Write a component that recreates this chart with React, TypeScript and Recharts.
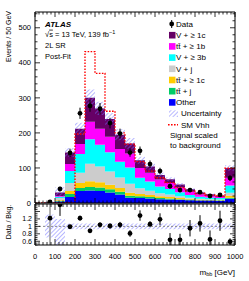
import React from 'react';
import { ComposedChart, Area, Line, Scatter, ErrorBar, XAxis, YAxis, ReferenceLine, Legend } from 'recharts';

const FONT = '"Liberation Sans", Arial, Helvetica, sans-serif';

// histogram bin edges (50 GeV bins), last edge closes the last step
const binEdges = [0, 50, 100, 150, 200, 250, 300, 350, 400, 450, 500, 550, 600, 650, 700, 750, 800, 850, 900, 950, 1000];

// background stack, events / 50 GeV per bin (bottom -> top)
const other = [0, 0.5, 4, 17, 34, 36, 34, 30, 24, 15, 14, 13, 11, 10, 9, 8, 7, 7, 6, 12];
const ttLight = [0, 0.2, 2, 9, 9, 10, 10, 9, 8, 6, 5, 4, 3, 3, 2, 2, 1, 1, 1, 3];
const ttC = [0, 0.2, 2, 8, 14, 16, 15, 13, 11, 8, 7, 6, 5, 4, 3, 2, 2, 1, 1, 6];
const vLight = [0, 0.6, 6, 23, 29, 50, 45, 38, 30, 26, 16, 12, 9, 7, 5, 3, 2, 2, 2, 8];
const v3b = [0, 0.3, 4, 34, 54, 70, 62, 55, 45, 46, 30, 26, 19, 16, 12, 8, 6, 5, 4, 21];
const ttB = [0, 0.2, 2, 20, 28, 50, 46, 44, 36, 40, 28, 25, 20, 17, 13, 9, 7, 5, 4, 22];
const vC = [0, 0.5, 10, 33, 44, 68, 58, 51, 41, 29, 22, 18, 13, 11, 9, 7, 5, 4, 3, 28];
const uncRel = [0, 0.3, 0.5, 0.09, 0.08, 0.08, 0.07, 0.07, 0.08, 0.09, 0.08, 0.08, 0.08, 0.08, 0.08, 0.08, 0.08, 0.08, 0.08, 0.08];
const smVhh = [0, 0, 0, 0, 197, 432, 370, 262, 200, 168, 118, 91, 72, 58, 44, 34, 27, 22, 20, 99];

// data points at bin centres
const dataX = [75, 125, 175, 225, 275, 325, 375, 425, 475, 525, 575, 625, 675, 725, 775, 825, 875, 925, 975];
const dataY = [3, 40, 143, 256, 277, 269, 228, 198, 144, 149, 111, 91, 48, 37, 37, 31, 20, 23, 71];
const dataErr = [1.7, 6.3, 12, 16, 16.6, 16.4, 15.1, 14.1, 12, 12.2, 10.5, 9.5, 6.9, 6.1, 6.1, 5.6, 4.5, 4.8, 8.4];

// lower panel
const ratioY = [1.22, 1.58, 0.99, 1.22, 0.88, 1.04, 1.01, 1.04, 0.81, 1.29, 1.06, 1.19, 0.64, 0.64, 0.95, 1.08, 0.65, 1.15, 0.59];
const ratioErr = [0, 0.3, 0.05, 0.07, 0.06, 0.07, 0.07, 0.08, 0.09, 0.14, 0.08, 0.16, 0.18, 0.16, 0.22, 0.22, 0.24, 0.27, 0.09];
const bandLo = [1, 0.7, 0.5, 0.92, 0.92, 0.92, 0.92, 0.92, 0.92, 0.92, 0.92, 0.92, 0.92, 0.92, 0.92, 0.92, 0.92, 0.92, 0.92, 0.92];
const bandHi = [1, 1.32, 1.2, 1.08, 1.08, 1.08, 1.08, 1.08, 1.08, 1.08, 1.08, 1.08, 1.08, 1.08, 1.08, 1.08, 1.08, 1.08, 1.08, 1.08];

// axis ticks
const xMajor = [0, 100, 200, 300, 400, 500, 600, 700, 800, 900, 1000];
const yMajor = [0, 100, 200, 300, 400, 500];
const rMajor = [0.6, 0.8, 1, 1.2, 1.4];
const rLabels = [0.6, 0.8, 1, 1.2];
const Y_MAX = 545;
const R_MIN = 0.5;
const R_MAX = 1.6;

const steps = (a: number, b: number, s: number) => {
  const out: number[] = [];
  for (let k = 0; a + k * s <= b + 1e-9; k++) out.push(Math.round((a + k * s) * 1000) / 1000);
  return out;
};
const xTicks = steps(0, 1000, 20);
const yTicks = steps(0, 540, 20);
const rTicks = steps(0.5, 1.6, 0.05);

const nBins = binEdges.length - 1;
const rows = binEdges.map((x, i) => {
  const b = Math.min(i, nBins - 1);
  const total = other[b] + ttLight[b] + ttC[b] + vLight[b] + v3b[b] + ttB[b] + vC[b];
  return {
    x,
    other: other[b],
    ttLight: ttLight[b],
    ttC: ttC[b],
    vLight: vLight[b],
    v3b: v3b[b],
    ttB: ttB[b],
    vC: vC[b],
    unc: [total * (1 - uncRel[b]), total * (1 + uncRel[b])],
    vhh: smVhh[b],
    band: [bandLo[b], bandHi[b]],
  };
});

const dataPts = dataX.map((x, i) => ({ x, y: dataY[i], e: dataErr[i] }));
const ratioPts = dataX.map((x, i) => ({
  x,
  y: ratioY[i],
  e: [Math.min(ratioErr[i], ratioY[i] - R_MIN), Math.min(ratioErr[i], R_MAX - ratioY[i])],
}));

const stack = [
  { key: 'other', color: '#0000ff' },
  { key: 'ttLight', color: '#00cc66' },
  { key: 'ttC', color: '#ffcc00' },
  { key: 'vLight', color: '#cccccc' },
  { key: 'v3b', color: '#00ffff' },
  { key: 'ttB', color: '#ff00ff' },
  { key: 'vC', color: '#660066' },
];

const legendRows = [
  { label: 'V + \u2265 1c', color: '#660066' },
  { label: 'tt\u0304 + \u2265 1b', color: '#ff00ff' },
  { label: 'V + \u2265 3b', color: '#00ffff' },
  { label: 'V + j', color: '#cccccc' },
  { label: 'tt\u0304 + \u2265 1c', color: '#ffcc00' },
  { label: 'tt\u0304 + j', color: '#00cc66' },
  { label: 'Other', color: '#0000ff' },
];

const isIn = (arr: number[], v: number) => arr.some((m) => Math.abs(m - v) < 1e-6);

type Side = 'left' | 'right' | 'top' | 'bottom';
const makeTick = (side: Side, majors: number[], labels: number[] | null, majorLen = 5, minorLen = 2.5) => (props: any) => {
  const x = Number(props.x);
  const y = Number(props.y);
  const v = Number(props.payload && props.payload.value);
  const len = isIn(majors, v) ? majorLen : minorLen;
  let x2 = x;
  let y2 = y;
  if (side === 'left') x2 = x + len;
  if (side === 'right') x2 = x - len;
  if (side === 'top') y2 = y + len;
  if (side === 'bottom') y2 = y - len;
  const show = labels !== null && isIn(labels, v);
  return (
    <g>
      <line x1={x} y1={y} x2={x2} y2={y2} stroke="#000" strokeWidth={0.8} />
      {show && side === 'left' ? (
        <text x={x - 3} y={y + 2.5} textAnchor="end" fontSize={7} fontFamily={FONT} fill="#000" stroke="none">
          {String(v)}
        </text>
      ) : null}
      {show && side === 'bottom' ? (
        <text x={x} y={y + 14} textAnchor="middle" fontSize={7.5} fontFamily={FONT} fill="#000" stroke="none">
          {String(v)}
        </text>
      ) : null}
    </g>
  );
};

const frame = { stroke: '#000', strokeWidth: 1 };
const labelFont = { fontSize: 7.5, fill: '#000', fontFamily: FONT };

const Dot = (props: any) => <circle cx={props.cx} cy={props.cy} r={2.4} fill="#000" />;

const Hatch = ({ id }: { id: string }) => (
  <pattern id={id} width={3} height={3} patternUnits="userSpaceOnUse" patternTransform="rotate(45)">
    <line x1={0} y1={0} x2={0} y2={3} stroke="#7070ff" strokeWidth={1} />
  </pattern>
);

const LegendBox = () => {
  const rowY = (i: number) => 6 + i * 11.2;
  return (
    <svg width={84} height={135} style={{ display: 'block', overflow: 'visible' }}>
      <defs>
        <Hatch id="hatchLeg" />
      </defs>
      <g fontFamily={FONT} fontSize={8} fill="#000">
        <line x1={6.7} y1={rowY(0) - 4} x2={6.7} y2={rowY(0) + 4} stroke="#000" strokeWidth={1} />
        <circle cx={6.7} cy={rowY(0)} r={2.4} fill="#000" />
        <text x={11} y={rowY(0)} dy="0.36em">Data</text>
        {legendRows.map((r, i) => (
          <g key={r.label}>
            <rect x={4} y={rowY(i + 1) - 3.3} width={6.5} height={6.6} fill={r.color} />
            <text x={11} y={rowY(i + 1)} dy="0.36em">{r.label}</text>
          </g>
        ))}
        <rect x={4} y={rowY(8) - 3.3} width={9} height={6.6} fill="url(#hatchLeg)" />
        <text x={16} y={rowY(8)} dy="0.36em">Uncertainty</text>
        <line x1={3} y1={rowY(9)} x2={13} y2={rowY(9)} stroke="#ff0000" strokeWidth={1.4} strokeDasharray="1.6 1.4" />
        <text x={16} y={rowY(9)} dy="0.36em">SM Vhh</text>
        <text x={5} y={117} dy="0.36em">Signal scaled</text>
        <text x={5} y={127.5} dy="0.36em">to background</text>
      </g>
    </svg>
  );
};

const MainPanel = () => (
  <ComposedChart width={249} height={204} data={rows} margin={{ top: 11, right: 0, bottom: 0, left: 0 }}>
    <defs>
      <Hatch id="hatchMain" />
    </defs>
    <XAxis xAxisId="b" type="number" dataKey="x" domain={[0, 1000]} ticks={xTicks} interval={0} height={1}
      tickSize={0} tickMargin={0} tickLine={false} tick={makeTick('bottom', xMajor, null)} axisLine={frame} allowDataOverflow />
    <XAxis xAxisId="t" orientation="top" type="number" dataKey="x" domain={[0, 1000]} ticks={xTicks} interval={0} height={1}
      tickSize={0} tickMargin={0} tickLine={false} tick={makeTick('top', xMajor, null)} axisLine={frame} allowDataOverflow />
    <YAxis yAxisId="l" type="number" domain={[0, Y_MAX]} ticks={yTicks} interval={0} width={1}
      tickSize={0} tickMargin={0} tickLine={false} tick={makeTick('left', yMajor, null)} axisLine={frame} allowDataOverflow />
    <YAxis yAxisId="lab" type="number" domain={[0, Y_MAX]} ticks={yMajor} interval={0} width={34}
      tickSize={0} tickMargin={3} tickLine={false} tick={labelFont} axisLine={false} allowDataOverflow />
    <YAxis yAxisId="r" orientation="right" type="number" domain={[0, Y_MAX]} ticks={yTicks} interval={0} width={14}
      tickSize={0} tickMargin={0} tickLine={false} tick={makeTick('right', yMajor, null)} axisLine={frame} allowDataOverflow />
    {stack.map((s) => (
      <Area key={s.key} xAxisId="b" yAxisId="l" stackId="bg" type="stepAfter" dataKey={s.key}
        fill={s.color} fillOpacity={1} stroke="none" isAnimationActive={false} />
    ))}
    <Area xAxisId="b" yAxisId="l" type="stepAfter" dataKey="unc" fill="url(#hatchMain)" fillOpacity={1}
      stroke="none" isAnimationActive={false} />
    <Line xAxisId="b" yAxisId="l" type="stepAfter" dataKey="vhh" stroke="#ff0000" strokeWidth={1.4}
      strokeDasharray="1.6 1.4" dot={false} isAnimationActive={false} />
    <Scatter xAxisId="b" yAxisId="l" data={dataPts} dataKey="y" shape={Dot} isAnimationActive={false}>
      <ErrorBar dataKey="e" direction="y" width={0} stroke="#000" strokeWidth={1} />
    </Scatter>
    <Legend layout="vertical" align="center" verticalAlign="middle" content={() => <LegendBox />}
      wrapperStyle={{ left: 165, top: 18, width: 84, height: 135 }} />
  </ComposedChart>
);

const RatioPanel = () => (
  <ComposedChart width={249} height={78} data={rows} margin={{ top: 0, right: 0, bottom: 0, left: 0 }}>
    <defs>
      <Hatch id="hatchRatio" />
    </defs>
    <XAxis xAxisId="b" type="number" dataKey="x" domain={[0, 1000]} ticks={xTicks} interval={0} height={36}
      tickSize={0} tickMargin={0} tickLine={false} tick={makeTick('bottom', xMajor, xMajor, 6, 3)} axisLine={frame} allowDataOverflow />
    <XAxis xAxisId="t" orientation="top" type="number" dataKey="x" domain={[0, 1000]} ticks={xTicks} interval={0} height={1}
      tickSize={0} tickMargin={0} tickLine={false} tick={makeTick('top', xMajor, null, 6, 3)} axisLine={frame} allowDataOverflow />
    <YAxis yAxisId="l" type="number" domain={[R_MIN, R_MAX]} ticks={rTicks} interval={0} width={35}
      tickSize={0} tickMargin={0} tickLine={false} tick={makeTick('left', rMajor, rLabels)} axisLine={frame} allowDataOverflow />
    <YAxis yAxisId="r" orientation="right" type="number" domain={[R_MIN, R_MAX]} ticks={rTicks} interval={0} width={14}
      tickSize={0} tickMargin={0} tickLine={false} tick={makeTick('right', rMajor, null)} axisLine={frame} allowDataOverflow />
    <Area xAxisId="b" yAxisId="l" type="stepAfter" dataKey="band" fill="url(#hatchRatio)" fillOpacity={1}
      stroke="none" isAnimationActive={false} />
    <ReferenceLine xAxisId="b" yAxisId="l" y={1} stroke="#888" strokeDasharray="2 2" strokeWidth={1} />
    <ReferenceLine xAxisId="b" yAxisId="l" x={dataX[0]} stroke="#999" strokeWidth={1.5} />
    <Scatter xAxisId="b" yAxisId="l" data={ratioPts} dataKey="y" shape={Dot} isAnimationActive={false}>
      <ErrorBar dataKey="e" direction="y" width={0} stroke="#000" strokeWidth={1} />
    </Scatter>
  </ComposedChart>
);

export default function App() {
  return (
    <div style={{ position: 'absolute', left: 0, top: 0, width: 249, height: 281, background: '#fff', overflow: 'hidden' }}>
      <style>{'.main-panel .recharts-surface { overflow: visible; }'}</style>
      <div style={{ position: 'absolute', left: 0, top: 203 }}>
        <RatioPanel />
      </div>
      <div className="main-panel" style={{ position: 'absolute', left: 0, top: 0 }}>
        <MainPanel />
      </div>
      <svg width={249} height={281} style={{ position: 'absolute', left: 0, top: 0, pointerEvents: 'none' }}>
        <g fontFamily={FONT} fill="#000">
          <text x={45} y={24} dy="0.36em" fontSize={8} fontWeight="bold" fontStyle="italic">ATLAS</text>
          <text x={45} y={34} dy="0.36em" fontSize={7.5}>
            {'\u221A'}<tspan textDecoration="overline">s</tspan>{' = 13 TeV, 139 fb'}
            <tspan dy={-3} fontSize={5.5}>{'\u22121'}</tspan>
          </text>
          <text x={45} y={45} dy="0.36em" fontSize={7.5}>2L SR</text>
          <text x={45} y={56} dy="0.36em" fontSize={7.5}>Post-Fit</text>
          <text transform="translate(10.5, 11) rotate(-90)" textAnchor="end" fontSize={7}>Events / 50 GeV</text>
          <text transform="translate(10.5, 222) rotate(-90)" textAnchor="middle" fontSize={7}>Data / Bkg.</text>
          <text x={235} y={274.5} textAnchor="end" fontSize={8}>
            m<tspan dy={1.8} fontSize={5.5}>bb</tspan>
            <tspan dy={-1.8}>{' [GeV]'}</tspan>
          </text>
        </g>
      </svg>
    </div>
  );
}
